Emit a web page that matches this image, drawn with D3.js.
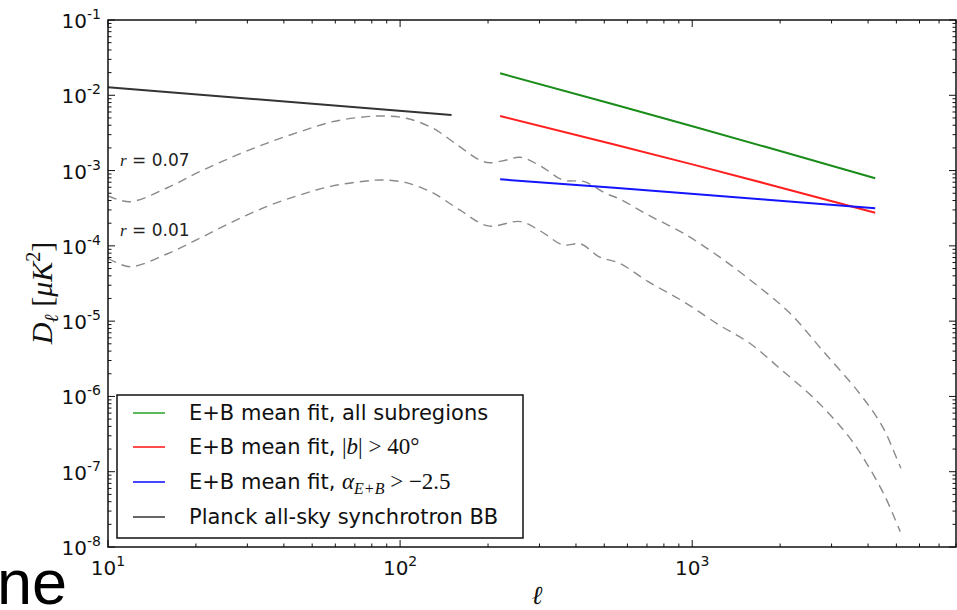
<!DOCTYPE html>
<html><head><meta charset="utf-8">
<script src="https://cdn.jsdelivr.net/npm/d3@7"></script>
<style>body{margin:0;background:#fff}svg{display:block}</style>
</head><body>
<svg id="c" width="957" height="610"></svg>
<script>
// ---- data ----
const xDomain = [10, 8000];
const yDomain = [1e-8, 1e-1];
const xMajorExp = [1, 2, 3];
const yMajorExp = [-8, -7, -6, -5, -4, -3, -2, -1];

const planckL = [10, 150];
const planckD = [0.01277, 0.00548];

const greenL = [220, 1016, 4232];
const greenD = [0.0196, 0.00383, 0.00079];
const redL = [220, 1016, 4232];
const redD = [0.00531, 0.00119, 0.000276];
const blueL = [220, 1016, 4232];
const blueD = [0.000766, 0.000489, 0.000316];

const r07L = [10, 11.9, 15.9, 20.6, 26.8, 34.9, 45.4, 58.8, 76.7, 87.2, 105, 129, 160, 187, 203, 231, 258, 305, 360, 427, 505, 564, 707, 933, 1236, 1632, 2163, 2782, 3731, 4482, 4983, 5181];
const r07D = [4.6e-4, 3.86e-4, 5.87e-4, 9.67e-4, 1.53e-3, 2.30e-3, 3.28e-3, 4.46e-3, 5.20e-3, 5.31e-3, 4.95e-3, 3.68e-3, 2.08e-3, 1.38e-3, 1.27e-3, 1.38e-3, 1.50e-3, 1.13e-3, 7.5e-4, 7.12e-4, 4.99e-4, 4.2e-4, 2.57e-4, 1.47e-4, 7.19e-5, 3.19e-5, 1.27e-5, 4.15e-6, 1.11e-6, 3.97e-7, 1.59e-7, 1.11e-7];

const r01L = [10, 11.9, 15.9, 20.6, 26.8, 34.9, 45.4, 58.8, 76.7, 87.2, 105, 129, 160, 200, 258, 305, 361, 416, 479, 564, 707, 933, 1236, 1570, 2022, 2647, 3437, 4017, 4574, 4960, 5155];
const r01D = [6.84e-5, 5.29e-5, 7.8e-5, 1.26e-4, 2.10e-4, 3.32e-4, 4.74e-4, 6.25e-4, 7.28e-4, 7.5e-4, 6.91e-4, 5.09e-4, 3.0e-4, 1.84e-4, 2.10e-4, 1.54e-4, 1.03e-4, 1.06e-4, 7.19e-5, 5.87e-5, 3.35e-5, 1.82e-5, 8.9e-6, 5.13e-6, 2.25e-6, 8.98e-7, 2.92e-7, 1.17e-7, 4.67e-8, 2.29e-8, 1.6e-8];

const legendLabels = ["E+B mean fit, all subregions", "E+B mean fit, |b|>40°", "E+B mean fit, αE+B>−2.5", "Planck all-sky synchrotron BB"];

// ---- chart ----
const svg = d3.select("#c");
const L = 108, R = 956, T = 20, B = 547;
const x = d3.scaleLog().domain(xDomain).range([L, R]);
const y = d3.scaleLog().domain(yDomain).range([B, T]);

svg.append("text").attr("x", -3).attr("y", 604)
  .attr("font-family", "Liberation Sans, Arial, sans-serif").attr("font-size", 63)
  .attr("fill", "#000").text("ne");

const g = svg.append("g");
const line = d3.line().x(d => x(d[0])).y(d => y(d[1]));
const smooth = d3.line().x(d => x(d[0])).y(d => y(d[1])).curve(d3.curveCatmullRom.alpha(0.5));
const zip = (a, b) => a.map((v, i) => [v, b[i]]);

g.append("path").datum(zip(r07L, r07D)).attr("d", smooth)
  .attr("fill", "none").attr("stroke", "#8a8a8a").attr("stroke-width", 1.4).attr("stroke-dasharray", "9,6");
g.append("path").datum(zip(r01L, r01D)).attr("d", smooth)
  .attr("fill", "none").attr("stroke", "#8a8a8a").attr("stroke-width", 1.4).attr("stroke-dasharray", "9,6");

g.append("path").datum(zip(planckL, planckD)).attr("d", line)
  .attr("fill", "none").attr("stroke", "#333").attr("stroke-width", 2);
g.append("path").datum(zip(greenL, greenD)).attr("d", smooth)
  .attr("fill", "none").attr("stroke", "#1a8c1a").attr("stroke-width", 2);
g.append("path").datum(zip(redL, redD)).attr("d", smooth)
  .attr("fill", "none").attr("stroke", "#ff1f1f").attr("stroke-width", 2);
g.append("path").datum(zip(blueL, blueD)).attr("d", smooth)
  .attr("fill", "none").attr("stroke", "#1414ff").attr("stroke-width", 2);

// r annotations
function rLabel(val, yy) {
  const t = svg.append("text").attr("x", 120).attr("y", yy).attr("font-size", 17).attr("fill", "#222");
  t.append("tspan").attr("font-family", "Liberation Serif, serif").attr("font-style", "italic").text("r");
  t.append("tspan").attr("font-family", "DejaVu Sans, sans-serif").text(" = " + val);
}
rLabel("0.07", 166);
rLabel("0.01", 236);

// ticks
const tk = svg.append("g").attr("stroke", "#111").attr("stroke-width", 1);
const xMinor = [], yMinor = [];
for (let e = 1; e <= 3; e++) for (let m = 2; m <= 9; m++) { const v = m * Math.pow(10, e); if (v <= xDomain[1]) xMinor.push(v); }
for (let e = -8; e <= -2; e++) for (let m = 2; m <= 9; m++) yMinor.push(m * Math.pow(10, e));
const xMaj = xMajorExp.map(e => Math.pow(10, e));
const yMaj = yMajorExp.map(e => Math.pow(10, e));
xMaj.forEach(v => { const px = x(v);
  tk.append("line").attr("x1", px).attr("x2", px).attr("y1", B).attr("y2", B - 7);
  tk.append("line").attr("x1", px).attr("x2", px).attr("y1", T).attr("y2", T + 7); });
xMinor.forEach(v => { const px = x(v);
  tk.append("line").attr("x1", px).attr("x2", px).attr("y1", B).attr("y2", B - 3.5);
  tk.append("line").attr("x1", px).attr("x2", px).attr("y1", T).attr("y2", T + 3.5); });
yMaj.forEach(v => { const py = y(v);
  tk.append("line").attr("x1", L).attr("x2", L + 7).attr("y1", py).attr("y2", py);
  tk.append("line").attr("x1", R).attr("x2", R - 7).attr("y1", py).attr("y2", py); });
yMinor.forEach(v => { const py = y(v);
  tk.append("line").attr("x1", L).attr("x2", L + 3.5).attr("y1", py).attr("y2", py);
  tk.append("line").attr("x1", R).attr("x2", R - 3.5).attr("y1", py).attr("y2", py); });

svg.append("rect").attr("x", L).attr("y", T).attr("width", R - L).attr("height", B - T)
  .attr("fill", "none").attr("stroke", "#111").attr("stroke-width", 1.5);

// tick labels
xMajorExp.forEach(e => {
  const t = svg.append("text").attr("x", x(Math.pow(10, e))).attr("y", 575)
    .attr("text-anchor", "middle").attr("font-family", "DejaVu Sans, sans-serif").attr("fill", "#111");
  t.append("tspan").attr("font-size", 20).text("10");
  t.append("tspan").attr("font-size", 14).attr("dy", -9).text(String(e));
});
yMajorExp.forEach(e => {
  const t = svg.append("text").attr("x", 101).attr("y", y(Math.pow(10, e)) + 8)
    .attr("text-anchor", "end").attr("font-family", "DejaVu Sans, sans-serif").attr("fill", "#111");
  t.append("tspan").attr("font-size", 20).text("10");
  t.append("tspan").attr("font-size", 14).attr("dy", -9).text(String(e));
});

// axis labels
const yl = svg.append("text").attr("transform", "translate(52,293) rotate(-90)")
  .attr("text-anchor", "middle").attr("font-family", "Liberation Serif, serif").attr("font-size", 30).attr("fill", "#111");
yl.append("tspan").attr("font-style", "italic").text("D");
yl.append("tspan").attr("font-style", "italic").attr("font-size", 20).attr("dy", 6).text("ℓ");
yl.append("tspan").attr("dy", -6).text(" [");
yl.append("tspan").attr("font-style", "italic").text("μK");
yl.append("tspan").attr("font-size", 20).attr("dy", -12).text("2");
yl.append("tspan").attr("dy", 12).text("]");

svg.append("text").attr("x", 537).attr("y", 604).attr("text-anchor", "middle")
  .attr("font-family", "Liberation Serif, serif").attr("font-style", "italic").attr("font-size", 26).attr("fill", "#111").text("ℓ");

// legend
const lg = svg.append("g");
lg.append("rect").attr("x", 117).attr("y", 395).attr("width", 406).attr("height", 143)
  .attr("fill", "#fff").attr("stroke", "#111").attr("stroke-width", 1.5);
const legColors = ["#5cb85c", "#ff4d4d", "#4646ff", "#666"];
const rowY = [413, 447, 482, 517];
legendLabels.forEach((lab, i) => {
  lg.append("line").attr("x1", 133).attr("x2", 165).attr("y1", rowY[i]).attr("y2", rowY[i])
    .attr("stroke", legColors[i]).attr("stroke-width", 2);
  const t = lg.append("text").attr("x", 189).attr("y", rowY[i] + 7)
    .attr("font-family", "DejaVu Sans, sans-serif").attr("font-size", 21).attr("fill", "#111");
  if (i === 0 || i === 3) t.text(lab);
  else if (i === 1) {
    t.append("tspan").text("E+B mean fit, ");
    t.append("tspan").attr("font-family", "Liberation Serif, serif").attr("font-size", 23).text("|");
    t.append("tspan").attr("font-family", "Liberation Serif, serif").attr("font-size", 23).attr("font-style", "italic").text("b");
    t.append("tspan").attr("font-family", "Liberation Serif, serif").attr("font-size", 23).text("| > 40°");
  } else {
    t.append("tspan").text("E+B mean fit, ");
    t.append("tspan").attr("font-family", "Liberation Serif, serif").attr("font-size", 23).attr("font-style", "italic").text("α");
    t.append("tspan").attr("font-family", "Liberation Serif, serif").attr("font-style", "italic").attr("font-size", 16).attr("dy", 5).text("E+B");
    t.append("tspan").attr("font-family", "Liberation Serif, serif").attr("font-size", 23).attr("dy", -5).text(" > −2.5");
  }
});
</script>
</body></html>
